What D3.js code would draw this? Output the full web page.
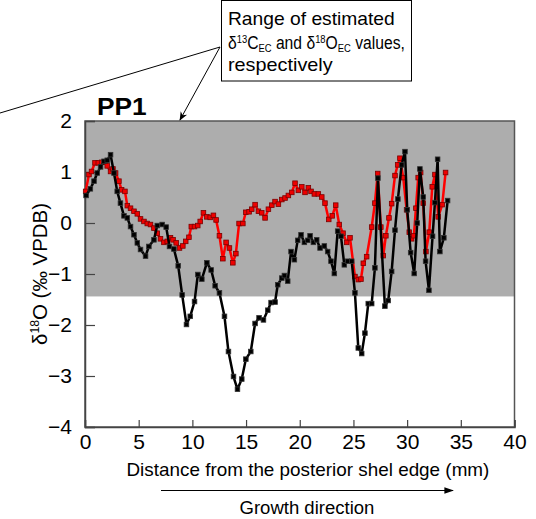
<!DOCTYPE html>
<html><head><meta charset="utf-8">
<script src="https://cdn.jsdelivr.net/npm/d3@7"></script>
<style>body{margin:0;background:#fff}svg{display:block;font-family:"Liberation Sans",Arial,sans-serif}</style>
</head><body><svg id="c" width="536" height="519"></svg>
<script>
// δ18O series (black) : [distance mm, value]
const d18O_black = [[0.1,0.54],[0.5,0.67],[0.84,0.82],[1.14,0.98],[1.45,1.10],[1.77,1.21],[2.07,1.23],[2.38,1.34],[2.7,0.98],[3.0,0.62],[3.3,0.39],[3.63,0.14],[3.94,0.10],[4.24,-0.07],[4.56,-0.23],[4.87,-0.39],[5.17,-0.52],[5.64,-0.65],[5.95,-0.46],[6.42,-0.33],[6.73,-0.05],[7.19,-0.03],[7.56,-0.08],[7.87,-0.46],[8.28,-0.51],[8.68,-0.84],[9.05,-1.41],[9.45,-1.99],[9.8,-1.83],[10.2,-1.54],[10.51,-1.01],[10.88,-1.10],[11.35,-0.78],[11.75,-0.92],[12.12,-1.23],[12.52,-1.37],[12.99,-1.83],[13.36,-2.52],[13.83,-3.01],[14.2,-3.26],[14.6,-3.06],[14.98,-2.67],[15.44,-2.52],[15.84,-1.97],[16.21,-1.86],[16.62,-1.90],[17.02,-1.71],[17.33,-1.56],[17.7,-1.55],[17.95,-1.21],[18.33,-1.08],[18.57,-1.03],[18.88,-1.14],[19.19,-0.56],[19.5,-0.72],[19.81,-0.34],[20.12,-0.23],[20.43,-0.38],[20.74,-0.34],[20.96,-0.25],[21.27,-0.38],[21.58,-0.33],[21.89,-0.49],[22.29,-0.45],[22.6,-0.56],[22.91,-0.75],[23.22,-0.99],[23.53,-0.16],[23.84,-0.26],[24.15,-0.82],[24.46,-0.75],[24.84,-0.75],[25.14,-1.37],[25.45,-2.45],[25.77,-2.56],[26.07,-2.16],[26.38,-1.58],[26.7,-1.58],[27.0,-0.88],[27.28,0.88],[27.93,-1.63],[28.24,-1.52],[28.56,-0.95],[28.87,-0.14],[29.14,0.47],[29.49,1.14],[29.8,1.40],[30.01,0.26],[30.33,-0.58],[30.66,-0.99],[30.94,0.00],[31.19,1.06],[31.5,0.51],[31.72,-0.75],[32.03,-1.32],[32.37,-0.26],[32.59,0.40],[32.84,1.25],[33.05,-0.56],[33.42,-0.29],[33.77,0.44]];
// second series (red)
const d18O_red = [[0.06,0.62],[0.37,0.95],[0.61,1.01],[0.93,1.18],[1.24,1.18],[1.55,1.19],[1.86,1.19],[2.07,1.12],[2.38,1.01],[2.6,1.06],[2.85,0.98],[3.16,0.82],[3.41,0.65],[3.72,0.62],[3.94,0.34],[4.24,0.29],[4.56,0.23],[4.87,0.18],[5.17,0.08],[5.49,0.03],[5.8,-0.01],[6.1,-0.03],[6.42,-0.10],[6.73,-0.20],[7.03,-0.31],[7.35,-0.38],[7.66,-0.36],[7.96,-0.29],[8.2,-0.33],[8.49,-0.39],[8.8,-0.49],[9.11,-0.45],[9.38,-0.36],[9.68,-0.28],[9.9,-0.07],[10.2,-0.07],[10.5,-0.05],[10.73,0.03],[11.03,0.20],[11.35,0.12],[11.66,0.11],[11.96,0.15],[12.21,0.06],[12.52,-0.25],[12.84,-0.70],[13.14,-0.38],[13.45,-0.49],[13.77,-0.78],[14.05,-0.60],[14.35,-0.01],[14.7,-0.01],[14.98,0.21],[15.28,0.22],[15.53,0.27],[15.84,0.36],[16.15,0.23],[16.46,0.20],[16.77,0.10],[17.08,0.27],[17.4,0.35],[17.7,0.42],[18.01,0.37],[18.33,0.46],[18.63,0.49],[18.94,0.54],[19.26,0.60],[19.56,0.78],[19.87,0.64],[20.19,0.71],[20.49,0.60],[20.8,0.69],[21.05,0.62],[21.36,0.57],[21.73,0.57],[22.05,0.51],[22.35,0.39],[22.7,0.07],[23.03,0.14],[23.35,0.35],[23.68,-0.03],[24.03,-0.20],[24.37,-0.38],[24.68,-0.29],[25.14,-1.05],[25.45,-1.11],[25.7,-1.10],[25.92,-0.79],[26.23,-0.66],[26.7,-0.08],[27.0,0.39],[27.26,0.97],[27.55,-0.08],[27.78,-0.64],[28.02,-0.25],[28.31,0.10],[28.56,0.38],[28.87,0.93],[29.12,1.14],[29.33,1.27],[29.64,0.89],[29.95,0.26],[30.2,-0.18],[30.42,-0.31],[30.63,-0.25],[30.82,0.29],[31.03,0.89],[31.26,0.99],[31.5,0.39],[31.75,-0.56],[32.06,-0.18],[32.34,0.71],[32.59,0.95],[32.9,0.12],[33.27,0.36],[33.58,0.99]];
const xTicks = [0,5,10,15,20,25,30,35,40];
const yTicks = [2,1,0,-1,-2,-3,-4];
const shadeRange = [-1.44, 2];

const svg = d3.select("#c");
const x = d3.scaleLinear().domain([0,40]).range([85,514.5]);
const y = d3.scaleLinear().domain([-4,2]).range([427,121]);

// stretch a text horizontally so it spans targetW starting at x0
function fitW(sel, x0, targetW){
  const w = sel.node().getBBox().width;
  const s = targetW / w;
  sel.attr("transform", `translate(${x0},0) scale(${s},1) translate(${-x0},0)`);
}

// shaded range
svg.append("rect").attr("x",x(0)).attr("y",y(shadeRange[1]))
  .attr("width",x(40)-x(0)).attr("height",y(shadeRange[0])-y(shadeRange[1]))
  .attr("fill","#adadad");

// frame
svg.append("rect").attr("x",x(0)).attr("y",y(2)).attr("width",x(40)-x(0)).attr("height",y(-4)-y(2))
  .attr("fill","none").attr("stroke","#555").attr("stroke-width",1.5);

// axes
const yAxis = d3.axisLeft(y).tickValues(yTicks).tickSize(-10).tickPadding(13).tickFormat(d3.format("d"));
const gy = svg.append("g").attr("transform",`translate(${x(0)},0)`).call(yAxis);
gy.select(".domain").attr("stroke","#444").attr("stroke-width",1.5);
gy.selectAll(".tick line").attr("stroke","#444").attr("stroke-width",1.2);
gy.selectAll(".tick text").attr("font-size",21).attr("fill","#000").attr("font-family","Liberation Sans, Arial, sans-serif");

const xAxis = d3.axisBottom(x).tickValues(xTicks).tickSize(-7).tickPadding(7);
const gx = svg.append("g").attr("transform",`translate(0,${y(-4)})`).call(xAxis);
gx.select(".domain").attr("stroke","#444").attr("stroke-width",1.5);
gx.selectAll(".tick line").attr("stroke","#444").attr("stroke-width",1.2);
gx.selectAll(".tick text").attr("font-size",21).attr("fill","#000").attr("font-family","Liberation Sans, Arial, sans-serif");

// lines
const line = d3.line().x(d=>x(d[0])).y(d=>y(d[1]));
function series(data, col, mfill, mstroke){
  svg.append("path").datum(data).attr("d",line).attr("fill","none").attr("stroke",col).attr("stroke-width",2.5).attr("stroke-linejoin","round");
  svg.append("g").selectAll("rect").data(data).join("rect")
    .attr("x",d=>x(d[0])-2.3).attr("y",d=>y(d[1])-2.3).attr("width",4.6).attr("height",4.6)
    .attr("fill",mfill).attr("stroke",mstroke).attr("stroke-width",0.8);
}
series(d18O_red,"#ff0000","#ee0000","#7a0000");
series(d18O_black,"#000","#000","#333");

// PP1
const pp = svg.append("text").attr("x",97).attr("y",115).attr("font-size",23).attr("font-weight","bold").text("PP1");
fitW(pp, 97, 50);

// y title
const yt = svg.append("text").attr("text-anchor","middle").attr("font-size",20);
yt.append("tspan").text("δ");
yt.append("tspan").attr("font-size",12).attr("dy",-8).text("18");
yt.append("tspan").attr("dy",8).text("O (‰ VPDB)");
const ytw = yt.node().getBBox().width;
yt.attr("transform",`translate(47,${(y(2)+y(-4))/2}) rotate(-90) scale(${142/ytw},1)`);

// x title
const xt = svg.append("text").attr("x",126.5).attr("y",476.5).attr("font-size",18)
  .text("Distance from the posterior shel edge (mm)");
fitW(xt, 126.5, 363);

// growth arrow
const defs = svg.append("defs");
defs.append("marker").attr("id","ah").attr("viewBox","0 0 10 10").attr("refX",9).attr("refY",5)
  .attr("markerWidth",8).attr("markerHeight",8).attr("orient","auto")
  .append("path").attr("d","M0,1.5 L10,5 L0,8.5 Z").attr("fill","#000");
defs.append("marker").attr("id","ah2").attr("viewBox","0 0 10 10").attr("refX",9).attr("refY",5)
  .attr("markerWidth",9).attr("markerHeight",9).attr("orient","auto")
  .append("path").attr("d","M0,1 L10,5 L0,9 L3,5 Z").attr("fill","#000");
svg.append("line").attr("x1",161).attr("y1",490.5).attr("x2",453).attr("y2",490.5)
  .attr("stroke","#000").attr("stroke-width",1.2).attr("marker-end","url(#ah)");
const gd = svg.append("text").attr("x",239.5).attr("y",514.5).attr("font-size",18).text("Growth direction");
fitW(gd, 239.5, 135);

// annotation
svg.append("line").attr("x1",220).attr("y1",47).attr("x2",0).attr("y2",113).attr("stroke","#000").attr("stroke-width",1);
svg.append("line").attr("x1",220).attr("y1",47).attr("x2",180).attr("y2",120).attr("stroke","#000").attr("stroke-width",1).attr("marker-end","url(#ah2)");
svg.append("rect").attr("x",221.5).attr("y",0.5).attr("width",190).attr("height",80.5).attr("fill","#fff").attr("stroke","#000").attr("stroke-width",1);
const ann = svg.append("g").attr("font-size",17.5);
const t1 = ann.append("text").attr("x",228).attr("y",25).text("Range of estimated");
fitW(t1, 228, 167);
const t2 = ann.append("text").attr("x",228).attr("y",49);
t2.append("tspan").text("δ");
t2.append("tspan").attr("font-size",10.5).attr("dy",-6).text("13");
t2.append("tspan").attr("dy",6).text("C");
t2.append("tspan").attr("font-size",10.5).attr("dy",3).text("EC");
t2.append("tspan").attr("dy",-3).text(" and δ");
t2.append("tspan").attr("font-size",10.5).attr("dy",-6).text("18");
t2.append("tspan").attr("dy",6).text("O");
t2.append("tspan").attr("font-size",10.5).attr("dy",3).text("EC");
t2.append("tspan").attr("dy",-3).text(" values,");
fitW(t2, 228, 177);
const t3 = ann.append("text").attr("x",228).attr("y",71).text("respectively");
fitW(t3, 228, 105);
</script></body></html>
